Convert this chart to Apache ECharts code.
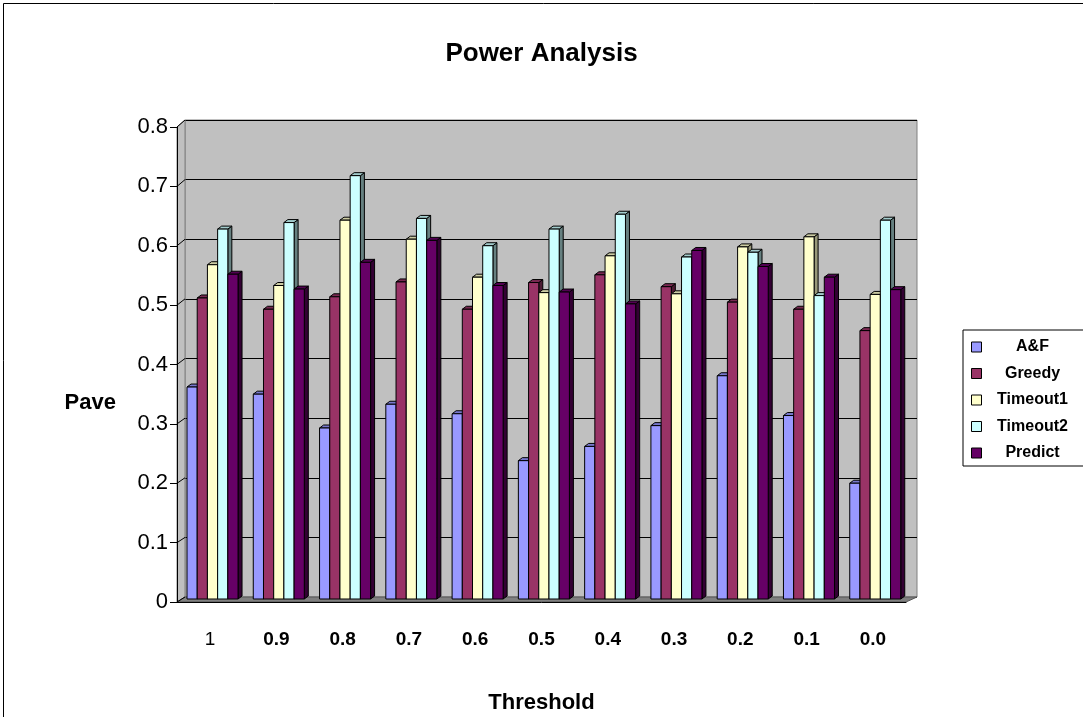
<!DOCTYPE html>
<html>
<head>
<meta charset="utf-8">
<title>Power Analysis</title>
<script src="https://cdn.jsdelivr.net/npm/echarts@6/dist/echarts.min.js"></script>
<style>
  html, body { margin: 0; padding: 0; background: #fff; overflow: hidden; }
  #chart { width: 1083px; height: 717px; }
</style>
</head>
<body>
<div id="chart"></div>
<script>
// categories (x axis)
var thresholds = ['1', '0.9', '0.8', '0.7', '0.6', '0.5', '0.4', '0.3', '0.2', '0.1', '0.0'];
var yTicks = [0, 0.1, 0.2, 0.3, 0.4, 0.5, 0.6, 0.7, 0.8];
var seriesNames = ['A&F', 'Greedy', 'Timeout1', 'Timeout2', 'Predict'];

// values
var afValues       = [0.357, 0.345, 0.288, 0.328, 0.312, 0.233, 0.257, 0.292, 0.376, 0.309, 0.195];
var greedyValues   = [0.507, 0.488, 0.509, 0.534, 0.488, 0.533, 0.546, 0.526, 0.500, 0.488, 0.452];
var timeout1Values = [0.563, 0.528, 0.638, 0.606, 0.542, 0.516, 0.578, 0.514, 0.593, 0.610, 0.513];
var timeout2Values = [0.623, 0.634, 0.713, 0.641, 0.595, 0.623, 0.648, 0.576, 0.584, 0.511, 0.638];
var predictValues  = [0.547, 0.522, 0.567, 0.604, 0.528, 0.517, 0.497, 0.587, 0.560, 0.542, 0.521];

var allValues = [afValues, greedyValues, timeout1Values, timeout2Values, predictValues];

// face colours of the 3d columns: front / top / side
var faces = [
  { front: '#9999FF', top: '#7777CC', side: '#4D4D80' },
  { front: '#993366', top: '#7A2952', side: '#4D1A33' },
  { front: '#FFFFCC', top: '#CCCCA3', side: '#99997A' },
  { front: '#CCFFFF', top: '#A3CCCC', side: '#668080' },
  { front: '#660066', top: '#520052', side: '#330033' }
];

var FONT = '"Liberation Sans", Arial, sans-serif';

function makeRender(k) {
  return function (params, api) {
    var cat = api.value(0);
    var top = api.coord([cat, api.value(1)]);
    var bot = api.coord([cat, 0]);
    var band = api.size([1, 0])[0];
    var bw = band * 0.154;
    var x0 = top[0] - band * 0.349 + k * bw;
    var y0 = top[1] - 3, y1 = bot[1] - 3;
    var d = 4, e = 3;
    var f = faces[k];
    var st = { stroke: '#000', lineWidth: 1 };
    return {
      type: 'group',
      children: [
        { type: 'polygon', shape: { points: [[x0 + bw, y0], [x0 + bw + d, y0 - e], [x0 + bw + d, y1 - e], [x0 + bw, y1]] },
          style: Object.assign({ fill: f.side }, st) },
        { type: 'polygon', shape: { points: [[x0, y0], [x0 + d, y0 - e], [x0 + bw + d, y0 - e], [x0 + bw, y0]] },
          style: Object.assign({ fill: f.top }, st) },
        { type: 'rect', shape: { x: x0, y: y0, width: bw, height: y1 - y0 },
          style: Object.assign({ fill: f.front }, st) }
      ]
    };
  };
}

var series = [];
for (var k = 0; k < seriesNames.length; k++) {
  series.push({
    name: seriesNames[k],
    type: 'custom',
    xAxisIndex: 0,
    yAxisIndex: 0,
    itemStyle: { color: faces[k].front },
    renderItem: makeRender(k),
    encode: { x: 0, y: 1 },
    data: allValues[k].map(function (v, i) { return [i, v]; })
  });
}

var chart = echarts.init(document.getElementById('chart'));
var option = {
  backgroundColor: '#fff',
  animation: false,
  title: {
    text: 'Power Analysis',
    left: 'center',
    top: 36,
    textStyle: { fontFamily: FONT, fontSize: 26, fontWeight: 'bold', color: '#000' }
  },
  legend: {
    orient: 'vertical',
    left: 963,
    top: 330,
    padding: [9, 24, 5, 8],
    itemGap: 10.5,
    itemWidth: 10,
    itemHeight: 10,
    icon: 'rect',
    itemStyle: { borderColor: '#000', borderWidth: 1 },
    borderColor: '#000',
    borderWidth: 1,
    backgroundColor: '#fff',
    selectedMode: false,
    data: seriesNames,
    formatter: function (n) { return '{c|' + n + '}'; },
    textStyle: {
      rich: { c: { width: 92, height: 16, align: 'center', fontFamily: FONT, fontSize: 16, fontWeight: 'bold', color: '#000' } }
    }
  },
  grid: [
    { left: 177, top: 127, width: 729, height: 475, outerBoundsMode: 'none', containLabel: false },
    { left: 185, top: 120, width: 732, height: 477, show: true, outerBoundsMode: 'none', containLabel: false,
      backgroundColor: '#C0C0C0', borderColor: '#808080', borderWidth: 1 }
  ],
  xAxis: [
    {
      gridIndex: 0,
      type: 'category',
      data: thresholds,
      z: 5,
      axisLine: { lineStyle: { color: '#000', width: 1 } },
      axisTick: { length: 8, lineStyle: { color: '#000' } },
      axisLabel: {
        margin: 28,
        fontFamily: FONT, fontSize: 19, fontWeight: 'bold', color: '#000',
        formatter: function (v, i) { return i === 0 ? '{n|' + v + '}' : v; },
        rich: { n: { fontFamily: FONT, fontSize: 19, fontWeight: 'normal', color: '#000' } }
      },
      name: 'Threshold',
      nameLocation: 'middle',
      nameGap: 90,
      nameTextStyle: { fontFamily: FONT, fontSize: 22, fontWeight: 'bold', color: '#000' }
    },
    { gridIndex: 1, type: 'category', data: thresholds, show: false }
  ],
  yAxis: [
    {
      gridIndex: 0,
      type: 'value',
      min: 0, max: 0.8, interval: 0.1,
      z: 5,
      axisLine: { show: true, lineStyle: { color: '#000', width: 1 } },
      axisTick: { show: true, length: 7, lineStyle: { color: '#000' } },
      splitLine: { show: false },
      axisLabel: {
        margin: 9,
        fontFamily: FONT, fontSize: 22, color: '#000',
        formatter: function (v) { return v === 0 ? '0' : v.toFixed(1); }
      }
    },
    {
      gridIndex: 1,
      type: 'value',
      min: 0, max: 0.8, interval: 0.1,
      axisLine: { show: false },
      axisTick: { show: false },
      axisLabel: { show: false },
      splitLine: { show: true, lineStyle: { color: '#000', width: 1 } }
    }
  ],
  series: series
};
chart.setOption(option);

// walls of the 3d box, from the two y axes
var g = [];
var fb = chart.convertToPixel({ yAxisIndex: 0 }, 0);
var ft = chart.convertToPixel({ yAxisIndex: 0 }, 0.8);
var bb = chart.convertToPixel({ yAxisIndex: 1 }, 0);
var bt = chart.convertToPixel({ yAxisIndex: 1 }, 0.8);
g.push({ type: 'polygon', z: 1, shape: { points: [[177, ft], [185, bt], [185, bb], [177, fb]] },
  style: { fill: '#C0C0C0', stroke: '#808080', lineWidth: 1 } });
g.push({ type: 'polygon', z: 1, shape: { points: [[177, fb], [185, bb], [917, bb], [906, fb]] },
  style: { fill: '#808080', stroke: '#555', lineWidth: 1 } });
yTicks.forEach(function (v) {
  var a = chart.convertToPixel({ yAxisIndex: 0 }, v);
  var b = chart.convertToPixel({ yAxisIndex: 1 }, v);
  g.push({ type: 'line', z: 1, shape: { x1: 177, y1: a, x2: 185, y2: b }, style: { stroke: '#000', lineWidth: 1 } });
});
// chart frame
g.push({ type: 'rect', z: 0, shape: { x: 3.5, y: 3.5, width: 1200, height: 800 },
  style: { fill: 'none', stroke: '#000', lineWidth: 1 } });
// y axis title
g.push({ type: 'text', z: 5, x: 116, y: 403,
  style: { text: 'Pave', textAlign: 'right', textVerticalAlign: 'middle',
           font: 'bold 22px ' + FONT, fill: '#000' } });
chart.setOption({ graphic: g });
</script>
</body>
</html>
